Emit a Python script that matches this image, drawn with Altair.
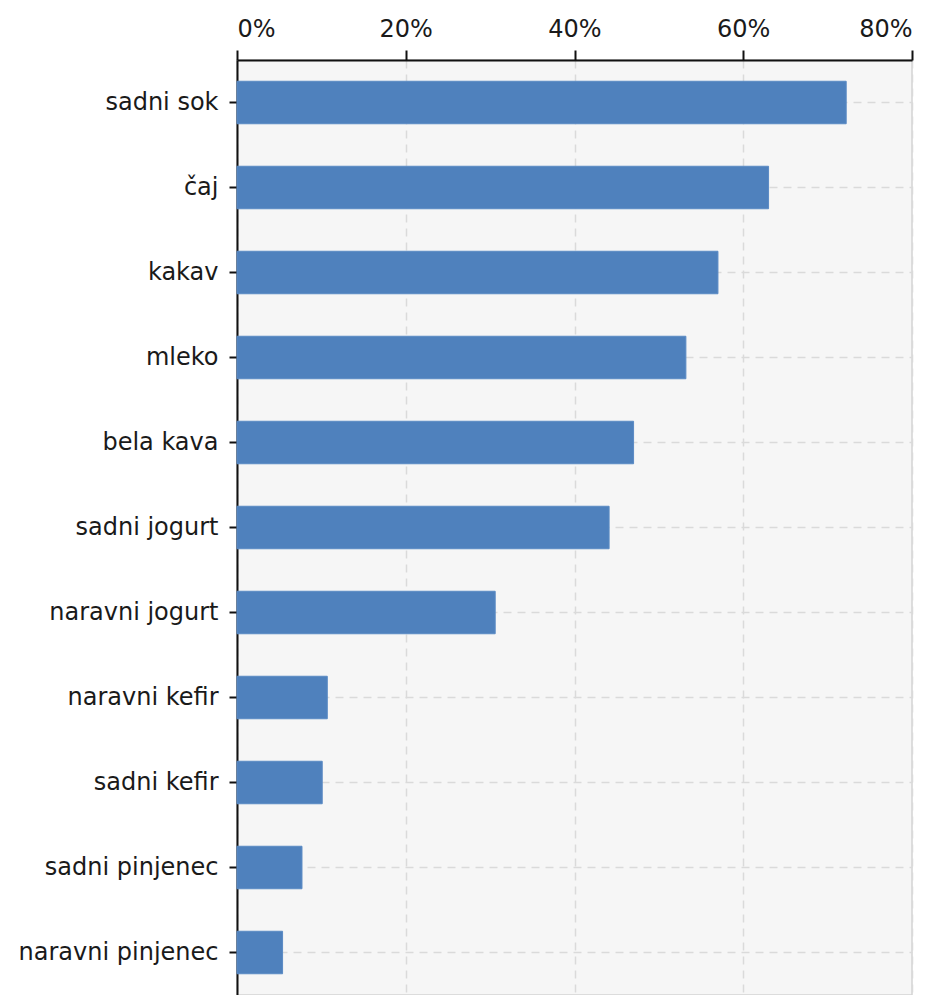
import altair as alt
import pandas as pd

categories = [
    "sadni sok", "čaj", "kakav", "mleko", "bela kava", "sadni jogurt",
    "naravni jogurt\u00a0", "naravni kefir", "sadni kefir", "sadni pinjenec",
    "naravni pinjenec",
]
shares = [0.722, 0.630, 0.570, 0.532, 0.470, 0.441, 0.306, 0.107, 0.101, 0.077, 0.054]
x_ticks = [0, 0.2, 0.4, 0.6, 0.8]

df = pd.DataFrame({"pijaca": categories, "delez": shares})

FONT = "DejaVu Sans"

chart = alt.Chart(df).mark_bar(color="#4f81bd", stroke="#5a8ac4", strokeWidth=1).encode(
    x=alt.X(
        "delez:Q",
        scale=alt.Scale(domain=[0, 0.8], nice=False),
        axis=alt.Axis(
            orient="top", format=".0%", values=x_ticks, title=None,
            grid=True, gridDash=[8, 6], gridColor="#dadada", gridWidth=1.5,
            domainColor="#111111", domainWidth=2, tickColor="#111111", tickWidth=2,
            tickSize=10, labelPadding=9, labelFontSize=24, labelFont=FONT,
            labelColor="#1a1a1a",
        ),
    ),
    y=alt.Y(
        "pijaca:N", sort=None,
        scale=alt.Scale(paddingInner=0.5, paddingOuter=0.25),
        axis=alt.Axis(
            title=None, grid=True, bandPosition=0.5, gridDash=[8, 6],
            gridColor="#dadada", gridWidth=1.5,
            domainColor="#111111", domainWidth=2, tickColor="#111111", tickWidth=2,
            tickSize=8, labelPadding=11, labelFontSize=24, labelFont=FONT,
            labelColor="#1a1a1a", labelLimit=400,
        ),
    ),
).properties(
    width=675, height=935,
    padding={"left": 10, "top": 9, "right": 5, "bottom": 0},
).configure_view(fill="#f6f6f6", stroke="#d4d4d4", strokeWidth=1.5)

chart.save("out.html", embed_options={"renderer": "svg", "actions": False})
